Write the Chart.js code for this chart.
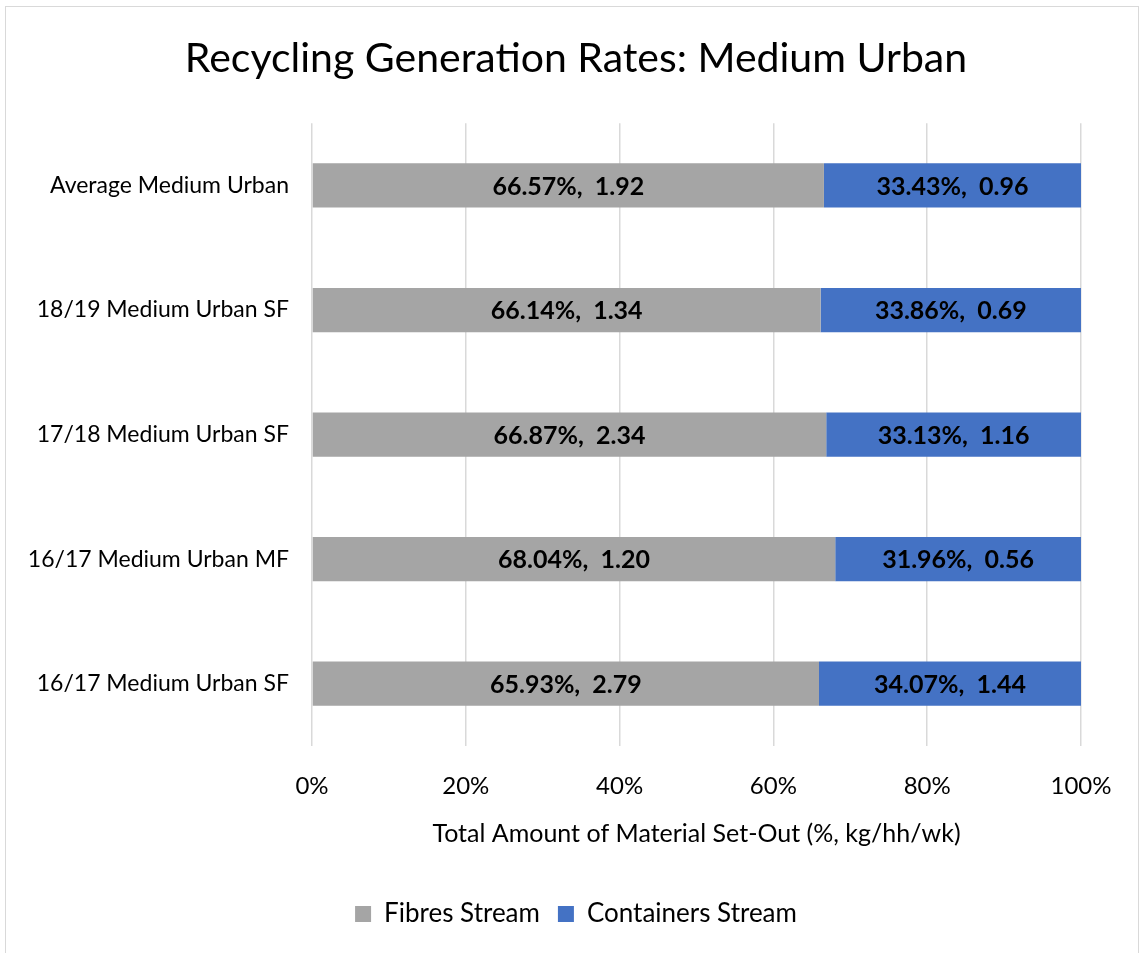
<!DOCTYPE html>
<html>
<head>
<meta charset="utf-8">
<script src="https://cdn.jsdelivr.net/npm/chart.js@4"></script>
<style>
  html, body { margin: 0; padding: 0; background: #fff; }
  #wrap {
    position: absolute; left: 5px; top: 6px;
    width: 1132px; height: 960px;
    border: 1px solid #D9D9D9;
  }
</style>
</head>
<body>
<div id="wrap"><canvas id="chart" width="1132" height="946"></canvas></div>
<script>
// Chart data
const categories = [
    'Average Medium Urban',
    '18/19 Medium Urban SF',
    '17/18 Medium Urban SF',
    '16/17 Medium Urban MF',
    '16/17 Medium Urban SF'
];
const fibresPct = [66.57, 66.14, 66.87, 68.04, 65.93];
const containersPct = [33.43, 33.86, 33.13, 31.96, 34.07];
const fibresKg = [1.92, 1.34, 2.34, 1.20, 2.79];
const containersKg = [0.96, 0.69, 1.16, 0.56, 1.44];
const xTicks = [0, 20, 40, 60, 80, 100];

const FONT = "Lato, 'Open Sans', sans-serif";

// Draws "pct%,  kg" centred in each bar segment
const segmentLabels = {
    id: 'segmentLabels',
    afterDatasetsDraw(chart) {
        const ctx = chart.ctx;
        ctx.save();
        ctx.font = 'bold 25px ' + FONT;
        ctx.fillStyle = '#000';
        ctx.textAlign = 'center';
        ctx.textBaseline = 'middle';
        chart.data.datasets.forEach((ds, di) => {
            const meta = chart.getDatasetMeta(di);
            meta.data.forEach((bar, i) => {
                const cx = (bar.x + bar.base) / 2;
                const text = ds.data[i].toFixed(2) + '%,  ' + ds.kg[i].toFixed(2);
                ctx.fillText(text, cx, bar.y + 1);
            });
        });
        ctx.restore();
    }
};

new Chart(document.getElementById('chart'), {
    type: 'bar',
    data: {
        labels: categories,
        datasets: [
            {
                label: 'Fibres Stream',
                data: fibresPct,
                kg: fibresKg,
                backgroundColor: '#A5A5A5'
            },
            {
                label: 'Containers Stream',
                data: containersPct,
                kg: containersKg,
                backgroundColor: '#4472C4'
            }
        ]
    },
    options: {
        indexAxis: 'y',
        responsive: false,
        animation: false,
        barPercentage: 0.355,
        categoryPercentage: 1,
        layout: {
            padding: { left: 8, right: 0, top: 0, bottom: 16 }
        },
        plugins: {
            title: {
                display: true,
                text: 'Recycling Generation Rates: Medium Urban',
                color: '#000',
                font: { family: FONT, size: 41, weight: 'normal' },
                padding: { top: 27, bottom: 40 }
            },
            legend: {
                position: 'bottom',
                labels: {
                    color: '#000',
                    font: { family: FONT, size: 26 },
                    boxWidth: 16,
                    boxHeight: 16,
                    padding: 18
                }
            },
            tooltip: { enabled: false }
        },
        scales: {
            x: {
                stacked: true,
                min: 0,
                max: 100,
                afterBuildTicks(scale) {
                    scale.ticks = xTicks.map(v => ({ value: v }));
                },
                afterFit(scale) {
                    scale.height = 137;
                },
                ticks: {
                    color: '#000',
                    font: { family: FONT, size: 24 },
                    padding: 26,
                    callback: v => v + '%'
                },
                grid: {
                    color: '#D9D9D9',
                    lineWidth: 1.5,
                    drawTicks: false
                },
                border: { display: false },
                title: {
                    display: true,
                    text: 'Total Amount of Material Set-Out (%, kg/hh/wk)',
                    color: '#000',
                    font: { family: FONT, size: 25 },
                    padding: { top: 0, bottom: 34 }
                }
            },
            y: {
                stacked: true,
                afterFit(scale) {
                    scale.width = 298;
                },
                ticks: {
                    color: '#000',
                    font: { family: FONT, size: 23 },
                    padding: 23
                },
                grid: { display: false, drawTicks: false },
                border: { display: false }
            },
            // empty right-hand strip so the plot ends at 100% with room to spare
            yRight: {
                type: 'category',
                axis: 'y',
                position: 'right',
                afterFit(scale) {
                    scale.width = 57;
                },
                ticks: { display: false },
                grid: { display: false, drawTicks: false },
                border: { display: false }
            }
        }
    },
    plugins: [segmentLabels]
});
</script>
</body>
</html>
